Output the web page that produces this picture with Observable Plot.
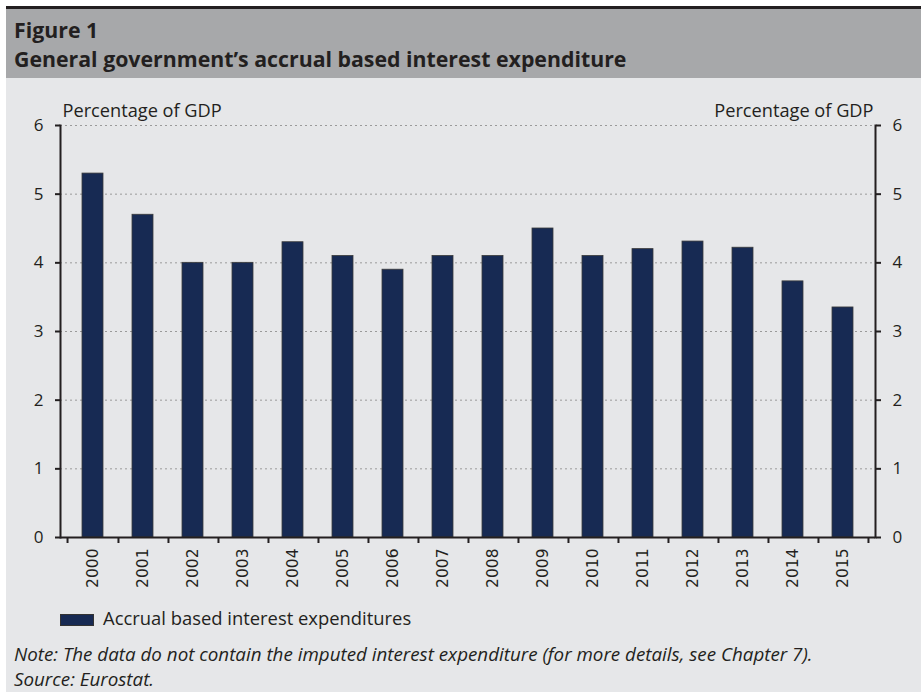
<!DOCTYPE html>
<html>
<head>
<meta charset="utf-8">
<script src="https://cdn.jsdelivr.net/npm/d3@7"></script>
<script src="https://cdn.jsdelivr.net/npm/@observablehq/plot@0.6"></script>
<style>
  html, body { margin: 0; padding: 0; background: #ffffff; }
  body { width: 921px; height: 693px; position: relative; overflow: hidden; font-family: "Open Sans", Lato, sans-serif; color: #231f20; }
  #frame { position: absolute; left: 6px; top: 6px; width: 915px; height: 686px; background: #e6e7e9; border-top: 3px solid #231f20; box-sizing: border-box; }
  #header { position: absolute; left: 6px; top: 9px; width: 915px; height: 69px; background: #a7a8aa; }
  .line { position: absolute; white-space: nowrap; line-height: 1; }
  #fig { left: 14px; top: 19px; font-weight: bold; font-size: 21.3px; }
  #title { left: 14px; top: 48px; font-weight: bold; font-size: 21.3px; }
  #chart { position: absolute; left: 0; top: 80px; }
  #legend { position: absolute; left: 60px; top: 605px; font-size: 18.4px; display: flex; align-items: flex-start; white-space: nowrap; }
  #legend .sw { width: 34px; height: 12px; margin-top: 9px; background: #172a53; border: 1px solid #333; box-sizing: border-box; margin-right: 9px; }
  #note { position: absolute; left: 14px; top: 642px; font-size: 18.8px; font-style: italic; line-height: 25px; white-space: nowrap; }
</style>
</head>
<body>
<div id="frame"></div>
<div id="header"></div>
<div id="fig" class="line">Figure 1</div>
<div id="title" class="line">General government’s accrual based interest expenditure</div>
<div id="chart"></div>
<div id="legend"><div class="sw"></div><span id="legtext"></span></div>
<div id="note"></div>
<script>
const years = ["2000","2001","2002","2003","2004","2005","2006","2007","2008","2009","2010","2011","2012","2013","2014","2015"];
const values = [5.3, 4.7, 4.0, 4.0, 4.3, 4.1, 3.9, 4.1, 4.1, 4.5, 4.1, 4.2, 4.31, 4.22, 3.73, 3.35];
const yTicks = [0, 1, 2, 3, 4, 5, 6];
const unitLabel = "Percentage of GDP";
const seriesName = "Accrual based interest expenditures";
const noteLines = ["Note: The data do not contain the imputed interest expenditure (for more details, see Chapter 7).", "Source: Eurostat."];

const data = years.map((y, i) => ({year: y, value: values[i]}));

const W = 921, H = 520, ML = 60, MR = 46, MT = 45, MB = 63;
const step = (W - ML - MR) / years.length;
const ink = "#231f20";

const chart = Plot.plot({
  width: W, height: H,
  marginLeft: ML, marginRight: MR, marginTop: MT, marginBottom: MB,
  style: {background: "transparent", fontFamily: "'Open Sans', sans-serif", color: ink},
  x: {domain: years, paddingInner: 0.58, paddingOuter: 0.29},
  y: {domain: [0, 6]},
  marks: [
    Plot.ruleY(yTicks.filter(d => d > 0), {stroke: "#9a9a9a", strokeWidth: 1, strokeDasharray: "2,3"}),
    Plot.barY(data, {x: "year", y: "value", fill: "#172a53", stroke: "#3b3b3b", strokeWidth: 0.8}),
    Plot.frame({anchor: "left", stroke: ink, strokeWidth: 2}),
    Plot.frame({anchor: "right", stroke: ink, strokeWidth: 2}),
    Plot.ruleY([0], {stroke: ink, strokeWidth: 2}),
    Plot.axisY({anchor: "left", ticks: yTicks, tickSize: 5, tickPadding: 12, strokeWidth: 2, fontSize: 17, label: null, tickFormat: d3.format("d")}),
    Plot.axisY({anchor: "right", ticks: yTicks, tickSize: 5, tickPadding: 12, strokeWidth: 2, fontSize: 17, label: null, tickFormat: d3.format("d")}),
    Plot.axisX({ticks: years, tickSize: 6, strokeWidth: 2, tickFormat: () => "", dx: step / 2, label: null}),
    Plot.axisX({ticks: ["2000"], tickSize: 6, strokeWidth: 2, tickFormat: () => "", dx: -step / 2, label: null}),
    Plot.axisX({ticks: years, tickSize: 0, tickPadding: 11, tickRotate: -90, fontSize: 15.5, fontFamily: "DejaVu Sans", label: null}),
    Plot.text([unitLabel], {frameAnchor: "top-left", dx: 2, dy: -9, fontSize: 18.2, fill: ink, textAnchor: "start", lineAnchor: "bottom"}),
    Plot.text([unitLabel], {frameAnchor: "top-right", dx: -2, dy: -9, fontSize: 18.2, fill: ink, textAnchor: "end", lineAnchor: "bottom"})
  ]
});
document.getElementById("chart").appendChild(chart);
document.getElementById("legtext").textContent = seriesName;
document.getElementById("note").innerHTML = noteLines.map(s => `<div>${s}</div>`).join("");
</script>
</body>
</html>
